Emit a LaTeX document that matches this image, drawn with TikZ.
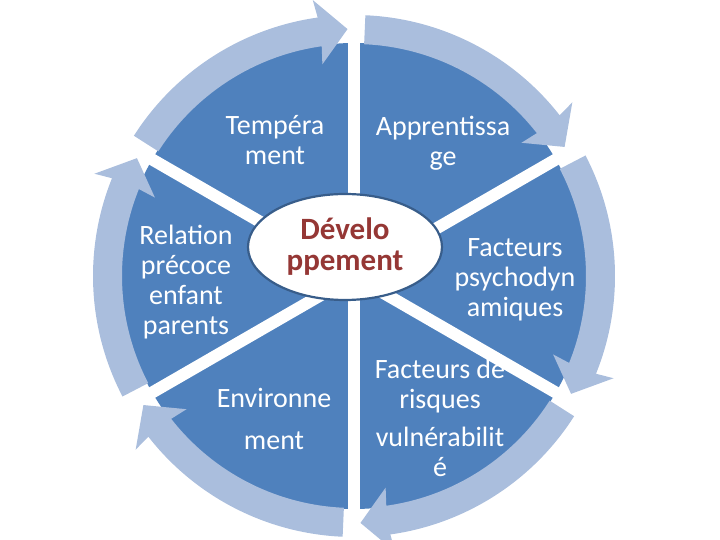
\documentclass[tikz,border=0pt]{standalone}
\usepackage{fontspec}
\setmainfont{Carlito}
\usepackage{tikz}
\usetikzlibrary{shapes.geometric}

\definecolor{secblue}{RGB}{79,129,189}
\definecolor{ringblue}{RGB}{170,190,221}
\definecolor{coreline}{RGB}{56,93,138}
\definecolor{corered}{RGB}{149,55,53}

% one curved arrow of the outer ring, #1 = start angle, #2 = spoke where it ends
\newcommand{\ringarrow}[2]{%
    \fill[ring] ({#1-2.5}:232pt) -- ({#1-2.5}:261pt)
        arc[start angle={#1-2.5}, end angle={#2+8}, radius=261pt]
        -- ({#2+8.5}:279pt) -- ({#2+1.5}:247pt) -- ({#2+8.5}:214pt) -- ({#2+8}:232pt)
        arc[start angle={#2+8}, end angle={#1-2.5}, radius=232pt] -- cycle;%
}

\begin{document}
\begin{tikzpicture}[
            x=1pt, y=1pt,
            ring/.style={fill=ringblue},
            spoke/.style={draw=white, line width=12pt},
            lbl/.style={text=white, align=center, inner sep=0pt,
                font=\fontsize{28}{30}\selectfont},
            core/.style={ellipse, fill=white, draw=coreline, line width=2.2pt,
                minimum width=194pt, minimum height=106pt, inner sep=0pt,
                text=corered, align=center, font=\bfseries\fontsize{31}{31}\selectfont}
        ]
            \useasboundingbox (0,0) rectangle (720,540);

            \begin{scope}[shift={(354,264)}]
                % Blue disk, cut into six parts by white spokes
                \fill[secblue] (0,0) circle (233pt);
                \draw[spoke] (0,0) -- (90:240pt);
                \draw[spoke] (0,0) -- (30:240pt);
                \draw[spoke] (0,0) -- (-30:240pt);
                \draw[spoke] (0,0) -- (-90:240pt);
                \draw[spoke] (0,0) -- (-150:240pt);
                \draw[spoke] (0,0) -- (150:240pt);

                % Outer ring of arrows, running clockwise
                \ringarrow{90}{30}
                \ringarrow{30}{-30}
                \ringarrow{-30}{-90}
                \ringarrow{-90}{-150}
                \ringarrow{-150}{-210}
                \ringarrow{150}{90}
            \end{scope}

            % Centre
            \node[core] (dev) at (345,293) {Dévelo\\ppement};

            % Sector labels
            \node[lbl] (temp) at (275,400) {Tempéra\\ment};
            \node[lbl] (appr) at (443,397) {Apprentissa\\ge};
            \node[lbl] (psy) at (515,260) {Facteurs\\psychodyn\\amiques};
            \node[lbl] (risk) at (440,122) {Facteurs de\\risques\\[8pt]vulnérabilit\\é};
            \node[lbl] (env) at (274,121) {Environne\\[12pt]ment};
            \node[lbl] (rel) at (186,258) {Relation\\précoce\\enfant\\parents};

        \end{tikzpicture}
\end{document}
